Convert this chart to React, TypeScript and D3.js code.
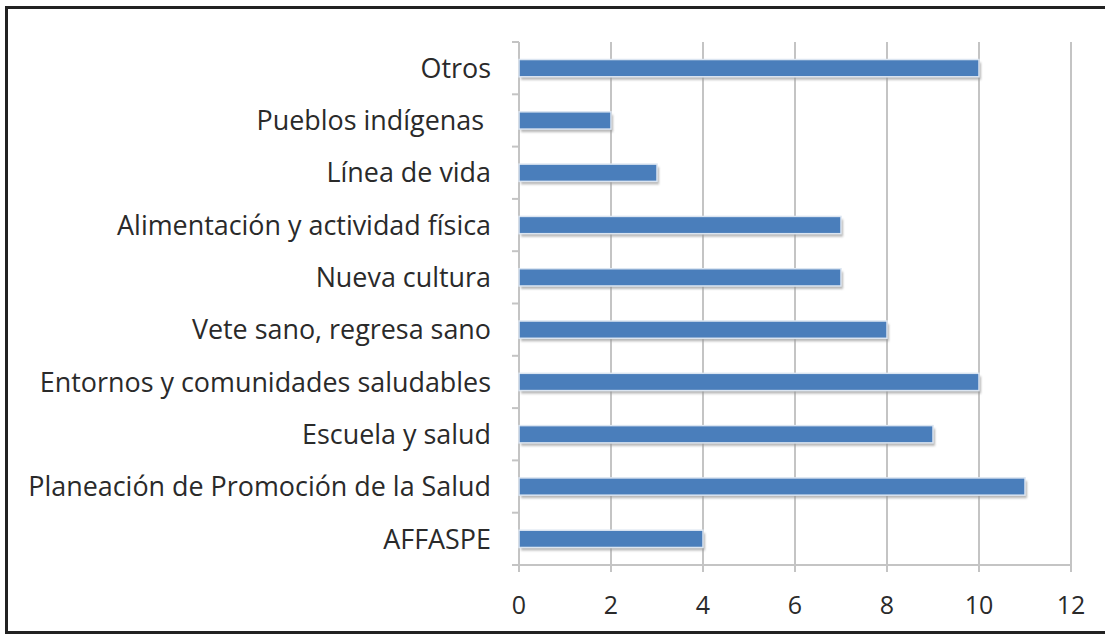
import React from "react";
import * as d3 from "d3";

const categories = [
  "Otros",
  "Pueblos indígenas ",
  "Línea de vida",
  "Alimentación y actividad física",
  "Nueva cultura",
  "Vete sano, regresa sano",
  "Entornos y comunidades saludables",
  "Escuela y salud",
  "Planeación de Promoción de la Salud",
  "AFFASPE",
];
const values = [10, 2, 3, 7, 7, 8, 10, 9, 11, 4];
const xTicks = [0, 2, 4, 6, 8, 10, 12];

export default function App() {
  const W = 1105, H = 635;
  const x = d3.scaleLinear().domain([0, 12]).range([519, 1071]);
  const y = d3.scaleBand<string>().domain(categories).range([42, 565]).paddingInner(0.67).paddingOuter(0.335);
  const band = d3.scaleBand<string>().domain(categories).range([42, 565]);
  const font = "'Open Sans', sans-serif";
  const grid = "#c4c4c4";
  return (
    <svg width={W} height={H} style={{ position: "absolute", left: 0, top: 0, background: "#fff" }}>
      <defs>
        <filter id="blur" x="-5%" y="-50%" width="110%" height="200%">
          <feGaussianBlur stdDeviation="1.2" />
        </filter>
      </defs>
      <rect x={0} y={0} width={W} height={H} fill="#fff" />
      <rect x={6.5} y={7.5} width={W + 10} height={625} fill="none" stroke="#222" strokeWidth={3} />
      {/* gridlines */}
      {xTicks.map((t) => (
        <line key={"g" + t} x1={x(t)} x2={x(t)} y1={42} y2={572} stroke={grid} strokeWidth={2} />
      ))}
      {/* category axis */}
      <line x1={x(0)} x2={x(0)} y1={42} y2={572} stroke={grid} strokeWidth={2} />
      {categories.map((c) => (
        <line key={"ct" + c} x1={512} x2={519} y1={band(c)!} y2={band(c)!} stroke={grid} strokeWidth={2} />
      ))}
      <line x1={512} x2={519} y1={565} y2={565} stroke={grid} strokeWidth={2} />
      {/* value axis */}
      <line x1={x(0)} x2={x(12)} y1={565} y2={565} stroke={grid} strokeWidth={2} />
      {/* bars */}
      {categories.map((c, i) => (
        <g key={"b" + c}>
          <rect x={x(0) + 2} y={y(c)! + 3} width={x(values[i]) - x(0)} height={y.bandwidth()} fill="#9a9a9a" filter="url(#blur)" opacity={0.7} />
          <rect x={x(0)} y={y(c)!} width={x(values[i]) - x(0)} height={y.bandwidth()} fill="#4a7ebb" stroke="#dbe5f1" strokeWidth={1.5} />
        </g>
      ))}
      {/* category labels */}
      {categories.map((c) => (
        <text key={"l" + c} x={491} y={y(c)! + y.bandwidth() / 2} dy="0.36em" textAnchor="end" fontFamily={font} fontSize={26.9} fill="#2a2a2a" style={{ whiteSpace: "pre" }}>
          {c}
        </text>
      ))}
      {/* tick labels */}
      {xTicks.map((t) => (
        <text key={"t" + t} x={x(t)} y={605} dy="0.36em" textAnchor="middle" fontFamily={font} fontSize={25} fill="#2a2a2a">
          {t}
        </text>
      ))}
    </svg>
  );
}
